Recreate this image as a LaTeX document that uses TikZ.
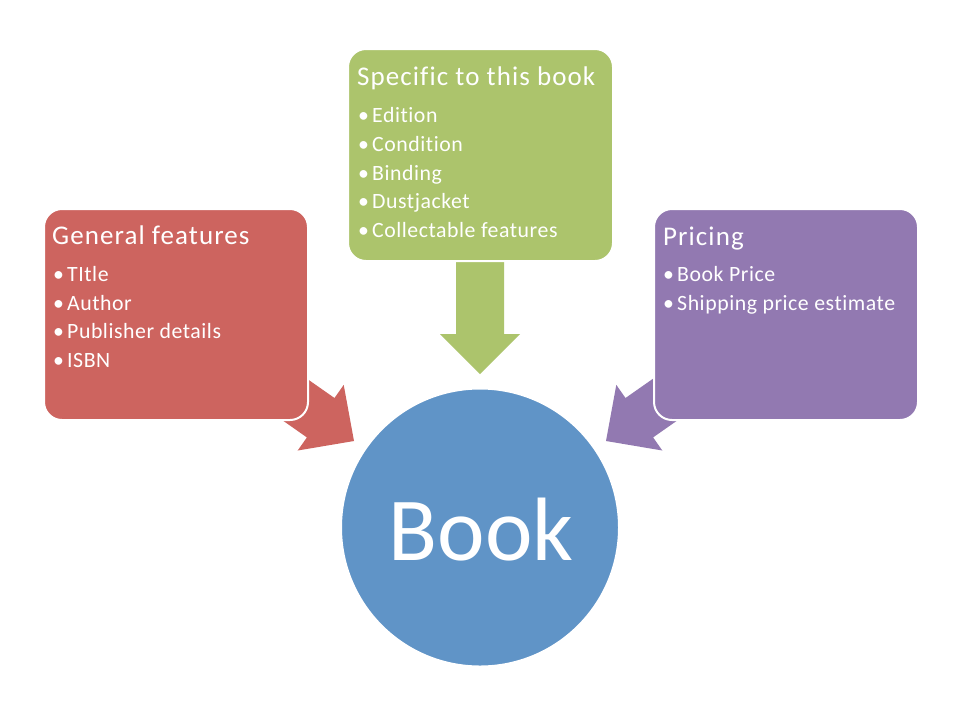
\documentclass[tikz,border=0pt]{standalone}
\usepackage{fontspec}
\setmainfont{Carlito}[Ligatures=NoCommon]
\newfontfamily\titlefont[LetterSpace=4,Ligatures=NoCommon]{Carlito}
\newfontfamily\itemfont[LetterSpace=2.5,Ligatures=NoCommon]{Carlito}
\definecolor{cred}{RGB}{205,100,95}
\definecolor{cgreen}{RGB}{172,196,108}
\definecolor{cpurple}{RGB}{146,121,177}
\definecolor{cblue}{RGB}{96,148,199}
\tikzset{
  boxshape/.style={rectangle, rounded corners=18pt, draw=white, line width=2pt, inner sep=0pt, anchor=north west},
  titletext/.style={anchor=base west, inner sep=0pt, text=white, font=\titlefont\fontsize{27}{27}\selectfont},
  itemtext/.style={anchor=base west, inner sep=0pt, text=white, font=\itemfont\fontsize{21.8}{21.8}\selectfont},
}
\newcommand{\bul}[1]{\makebox[12pt][l]{\hspace{-2pt}\textbullet}#1}
\begin{document}
\begin{tikzpicture}[x=1pt,y=-1pt]
\useasboundingbox[fill=white] (0,0) rectangle (960,716);
% arrows (behind boxes)
\fill[cred] (273.1,355.0) -- (334.5,398.0) -- (343.7,384.9) -- (354,441) -- (297.7,450.5) -- (306.9,437.4) -- (245.5,394.4) -- cycle;
\fill[cpurple] (686.9,355.0) -- (625.5,398.0) -- (616.3,384.9) -- (606,441) -- (662.3,450.5) -- (653.1,437.4) -- (714.5,394.4) -- cycle;
\fill[cgreen] (456,240) -- (504,240) -- (504,334) -- (520,334) -- (480,374) -- (440,334) -- (456,334) -- cycle;
% boxes
\node[boxshape, fill=cred, minimum width=264pt, minimum height=211pt] (gen) at (43,208) {};
\node[boxshape, fill=cgreen, minimum width=265pt, minimum height=212pt] (spec) at (347,48) {};
\node[boxshape, fill=cpurple, minimum width=264pt, minimum height=211pt] (pric) at (653,208) {};
% circle
\node[circle, fill=cblue, draw=white, line width=2pt, minimum size=278pt, inner sep=0pt] (book) at (480,527.5) {};
\node[anchor=base, inner sep=0pt, text=white, font=\fontsize{90}{90}\selectfont] (booktxt) at (481,560) {Book};
% texts: general
\node[titletext] (g0) at (52,244) {General features};
\node[itemtext] (g1) at (55,281) {\bul{TItle}};
\node[itemtext] (g2) at (55,310) {\bul{Author}};
\node[itemtext] (g3) at (55,338) {\bul{Publisher details}};
\node[itemtext] (g4) at (55,367) {\bul{ISBN}};
% specific
\node[titletext] (s0) at (357,85) {Specific to this book};
\node[itemtext] (s1) at (360,122) {\bul{Edition}};
\node[itemtext] (s2) at (360,151) {\bul{Condition}};
\node[itemtext] (s3) at (360,180) {\bul{Binding}};
\node[itemtext] (s4) at (360,208) {\bul{Dustjacket}};
\node[itemtext] (s5) at (360,237) {\bul{Collectable features}};
% pricing
\node[titletext] (p0) at (663,245) {Pricing};
\node[itemtext] (p1) at (665,281) {\bul{Book Price}};
\node[itemtext] (p2) at (665,310) {\bul{Shipping price estimate}};
\end{tikzpicture}
\end{document}
